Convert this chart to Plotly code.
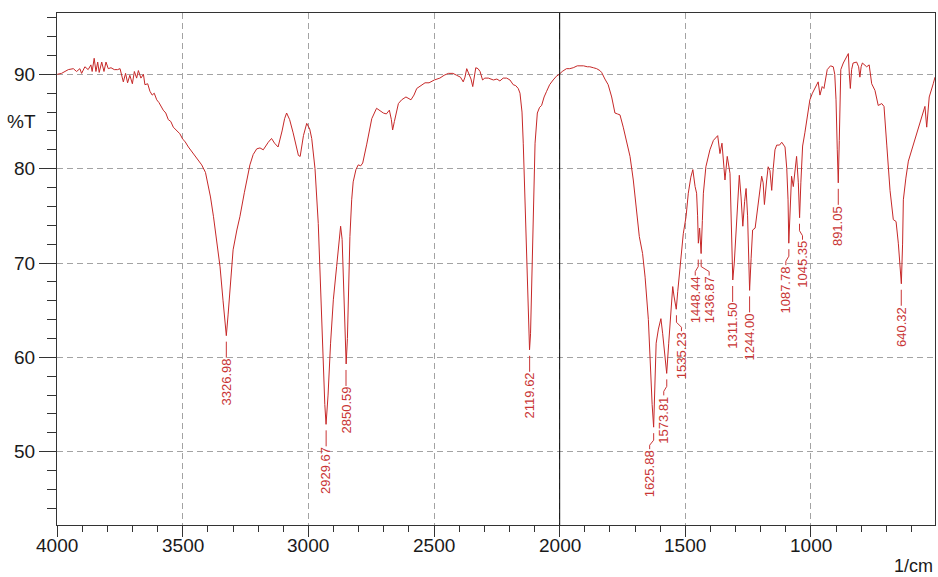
import plotly.graph_objects as go

# ---------------- data ----------------
wavenumber = [
    4000, 3983, 3956, 3936, 3923, 3910, 3903, 3890, 3877, 3866, 3861, 3853, 3846, 3839, 3833,
    3823, 3814, 3806, 3797, 3786, 3773, 3760, 3750, 3744, 3737, 3728, 3720, 3711, 3701, 3693,
    3684, 3677, 3667, 3657, 3651, 3640, 3631, 3622, 3614, 3604, 3595, 3578, 3568, 3558, 3548,
    3538, 3525, 3512, 3500, 3492, 3478, 3465, 3452, 3439, 3425, 3410, 3399, 3390, 3378, 3365,
    3352, 3340, 3332, 3327, 3320, 3310, 3300, 3285, 3273, 3255, 3240, 3233, 3220, 3206, 3193,
    3180, 3160, 3147, 3135, 3121, 3105, 3095, 3087, 3075, 3061, 3050, 3040, 3033, 3020, 3007,
    2995, 2987, 2974, 2961, 2954, 2945, 2935, 2930, 2922, 2912, 2901, 2888, 2878, 2872, 2866,
    2858, 2854, 2850, 2845, 2840, 2835, 2828, 2822, 2811, 2802, 2792, 2784, 2768, 2748, 2729,
    2715, 2702, 2690, 2678, 2670, 2665, 2658, 2642, 2629, 2612, 2592, 2580, 2569, 2550, 2536,
    2520, 2499, 2477, 2460, 2443, 2425, 2410, 2395, 2384, 2377, 2370, 2365, 2360, 2353, 2346,
    2340, 2334, 2325, 2317, 2307, 2298, 2284, 2264, 2250, 2238, 2225, 2211, 2198, 2185, 2175,
    2165, 2158, 2150, 2145, 2135, 2127, 2123, 2120, 2116, 2112, 2105, 2098, 2089, 2080, 2072,
    2062, 2052, 2040, 2026, 2013, 2002, 1990, 1973, 1960, 1946, 1930, 1919, 1905, 1890, 1880,
    1866, 1853, 1840, 1833, 1820, 1807, 1793, 1780, 1770, 1760, 1747, 1733, 1720, 1707, 1693,
    1683, 1670, 1660, 1647, 1640, 1632, 1626, 1622, 1616, 1607, 1597, 1590, 1582, 1574, 1566,
    1558, 1550, 1545, 1536, 1530, 1525, 1518, 1508, 1497, 1488, 1478, 1470, 1461, 1455, 1451,
    1448, 1443, 1437, 1432, 1428, 1418, 1402, 1388, 1371, 1362, 1354, 1342, 1333, 1322, 1316,
    1311, 1305, 1295, 1285, 1278, 1271, 1264, 1258, 1252, 1247, 1244, 1238, 1232, 1222, 1210,
    1196, 1190, 1185, 1176, 1170, 1163, 1156, 1150, 1143, 1136, 1125, 1116, 1103, 1096, 1091,
    1088, 1082, 1077, 1070, 1060, 1057, 1050, 1045, 1040, 1033, 1024, 1014, 1004, 994, 984,
    971, 964, 955, 948, 935, 922, 911, 905, 900, 895, 891, 887, 881, 871, 860,
    851, 847, 843, 838, 832, 818, 810, 805, 800, 795, 778, 768, 758, 745, 732,
    718, 709, 698, 685, 672, 661, 652, 645, 640, 635, 632, 622, 612, 595, 579,
    560, 546, 539, 529, 513, 506,
]
transmittance = [
    90.0, 90.1, 90.5, 90.6, 90.3, 90.6, 90.1, 90.8, 90.5, 91.0, 90.3, 91.7, 90.3, 91.3, 90.2,
    91.3, 90.3, 91.3, 90.6, 90.7, 90.5, 90.5, 90.6, 89.9, 89.2, 90.1, 89.1, 89.9, 89.0, 90.3,
    89.6, 90.4, 89.6, 90.0, 88.9, 89.0, 88.2, 87.8, 88.0, 87.3, 87.0, 86.2, 85.9, 85.2, 85.0,
    84.4, 84.1, 83.7, 83.1, 82.9, 82.3, 81.8, 81.3, 80.9, 80.4, 79.6, 78.3, 77.0, 74.9, 72.3,
    69.6, 66.0, 63.5, 62.3, 64.5, 68.5, 71.4, 73.5, 74.9, 77.5, 79.5, 80.4, 81.5, 82.1, 82.2,
    82.0, 82.8, 83.2, 82.7, 82.3, 84.0, 85.3, 85.9, 85.2, 83.8, 82.5, 81.4, 81.3, 83.5, 84.8,
    84.2, 83.2, 80.0, 74.2, 68.5, 61.0, 55.0, 52.9, 56.0, 61.5, 66.1, 69.6, 72.8, 73.9, 72.5,
    66.0, 61.5, 59.3, 62.0, 67.0, 72.8, 76.7, 78.6, 79.9, 80.4, 80.3, 80.6, 82.6, 85.3, 86.4,
    86.1, 85.9, 85.8, 86.2, 85.2, 84.1, 85.0, 86.9, 87.3, 87.6, 87.3, 87.8, 88.5, 88.9, 89.1,
    89.1, 89.4, 89.6, 89.9, 90.1, 90.1, 89.9, 89.7, 89.2, 89.7, 90.6, 90.3, 89.9, 89.5, 88.7,
    89.8, 90.7, 90.6, 90.3, 89.4, 89.6, 89.6, 89.4, 89.5, 89.3, 89.6, 89.6, 89.4, 88.9, 88.8,
    88.5, 88.0, 86.0, 82.7, 73.8, 66.8, 62.5, 60.8, 62.5, 66.8, 75.6, 82.7, 85.9, 86.5, 86.7,
    87.6, 88.2, 88.9, 89.4, 89.8, 90.0, 90.3, 90.6, 90.6, 90.7, 90.9, 90.9, 90.9, 90.8, 90.8,
    90.7, 90.6, 90.4, 90.2, 89.5, 88.9, 87.6, 85.9, 85.8, 85.7, 84.4, 82.7, 81.3, 78.8, 75.6,
    72.8, 71.0, 68.5, 64.0, 59.5, 55.0, 52.6, 56.5, 61.5, 63.0, 64.1, 62.5, 60.0, 58.3, 61.5,
    65.0, 67.5, 66.5, 65.1, 67.0, 68.5, 70.3, 73.1, 74.9, 77.4, 79.1, 79.9, 78.1, 77.4, 75.0,
    72.1, 73.7, 71.0, 74.5, 77.4, 80.2, 82.0, 83.0, 83.5, 81.6, 82.7, 78.8, 81.3, 79.5, 74.0,
    68.2, 70.0, 74.9, 79.3, 77.0, 73.9, 76.5, 77.9, 75.0, 70.0, 67.1, 70.5, 73.5, 73.7, 76.5,
    79.2, 78.5, 76.2, 78.8, 80.2, 79.8, 77.7, 80.0, 82.0, 82.5, 82.5, 82.8, 82.3, 80.0, 76.7,
    72.1, 75.5, 79.2, 78.1, 80.2, 81.3, 78.5, 74.8, 78.5, 82.4, 83.8, 85.8, 87.3, 88.0, 88.5,
    89.2, 87.8, 88.7, 88.5, 90.5, 90.9, 90.8, 90.0, 87.3, 82.0, 78.5, 83.0, 90.5, 91.2, 91.7,
    92.2, 90.0, 88.5, 90.5, 91.2, 91.3, 90.8, 89.7, 90.8, 91.2, 90.8, 91.0, 89.0, 88.3, 86.7,
    86.9, 86.6, 82.5, 77.7, 74.6, 74.4, 72.1, 70.0, 67.8, 72.0, 76.7, 79.0, 80.8, 82.3, 83.7,
    85.3, 86.6, 84.4, 87.6, 89.0, 89.7,
]

peak_positions = [3326.98, 2929.67, 2850.59, 2119.62, 1625.88, 1573.81, 1535.23, 1448.44,
                  1436.87, 1311.50, 1244.00, 1087.78, 1045.35, 891.05, 640.32]
peak_labels = ["3326.98", "2929.67", "2850.59", "2119.62", "1625.88", "1573.81", "1535.23",
               "1448.44", "1436.87", "1311.50", "1244.00", "1087.78", "1045.35", "891.05",
               "640.32"]

x_tick_values = [4000, 3500, 3000, 2500, 2000, 1500, 1000]
x_tick_labels = ["4000", "3500", "3000", "2500", "2000", "1500", "1000"]
y_tick_values = [50, 60, 70, 80, 90]

# ---------------- style ----------------
LINE_RED = "#c62828"
LABEL_RED = "#c93535"
GRID = "#a3a3a3"
TEXT = "#1a1a1a"
FONT = "Liberation Sans, Arial, sans-serif"
label_dx = [0, 0, 0, 0, -4, -3, 5, -3, 8, 0, 0, -3, 3, 0, 0]   # pixel hook of leaders

fig = go.Figure()
fig.add_trace(go.Scatter(x=wavenumber, y=transmittance, mode="lines",
                         line=dict(color=LINE_RED, width=1), hoverinfo="skip"))


def trough_value(pos):
    i = min(range(len(wavenumber)), key=lambda k: abs(wavenumber[k] - pos))
    lo, hi = max(0, i - 2), min(len(wavenumber), i + 3)
    return min(transmittance[lo:hi])


shapes = []
annotations = []
for pos, txt, dx in zip(peak_positions, peak_labels, label_dx):
    ty = trough_value(pos)
    if dx == 0:
        path = "M0,-6 L0,-22"
    else:
        path = f"M0,-6 L0,-13 L{dx},-18 L{dx},-22"
    shapes.append(dict(type="path", xref="x", yref="y", xsizemode="pixel", ysizemode="pixel",
                       xanchor=pos, yanchor=ty, path=path,
                       line=dict(color=LABEL_RED, width=1)))
    annotations.append(dict(x=pos, y=ty, xref="x", yref="y", text=txt, showarrow=False,
                            textangle=-90, xanchor="center", yanchor="top",
                            xshift=dx, yshift=-22, borderpad=0,
                            font=dict(family=FONT, size=13, color=LABEL_RED)))

# x tick labels placed as text under the axis
for v, t in zip(x_tick_values, x_tick_labels):
    annotations.append(dict(x=v, xref="x", yref="paper", y=-0.041, text=t, showarrow=False,
                            xanchor="center", yanchor="middle",
                            font=dict(family=FONT, size=19, color=TEXT)))

# solid divider at 2000
shapes.append(dict(type="line", xref="x", yref="paper", x0=2000, x1=2000, y0=0, y1=1,
                   line=dict(color="#000000", width=1), layer="above"))

annotations.append(dict(xref="paper", yref="y", x=-0.0405, y=85, text="%T", showarrow=False,
                        xanchor="center", yanchor="middle",
                        font=dict(family=FONT, size=19, color=TEXT)))
annotations.append(dict(xref="paper", yref="paper", x=1.0, y=-0.080, text="1/cm",
                        showarrow=False, xanchor="right", yanchor="middle",
                        font=dict(family=FONT, size=18, color=TEXT)))

fig.update_layout(
    width=938, height=577,
    margin=dict(l=57, r=3, t=13, b=52),
    paper_bgcolor="white", plot_bgcolor="white",
    showlegend=False,
    shapes=shapes, annotations=annotations,
    font=dict(family=FONT, size=19, color=TEXT),
)
fig.update_xaxes(
    range=[4001, 506], tickmode="array", tickvals=x_tick_values, showticklabels=False,
    ticks="outside", ticklen=11, tickcolor="#333", tickwidth=1,
    minor=dict(dtick=100, ticks="outside", ticklen=6, tickcolor="#333", showgrid=False),
    showgrid=True, gridcolor=GRID, griddash="6px,4px", gridwidth=1,
    showline=True, linecolor="#333", linewidth=1, mirror=True,
    zeroline=False,
)
fig.update_yaxes(
    range=[42.23, 96.5], tickmode="array", tickvals=y_tick_values,
    ticks="outside", ticklen=17, tickcolor="#333", tickwidth=1,
    minor=dict(dtick=2, tick0=0, ticks="outside", ticklen=9, tickcolor="#333", showgrid=False),
    showgrid=True, gridcolor=GRID, griddash="6px,4px", gridwidth=1,
    showline=True, linecolor="#333", linewidth=1, mirror=True,
    zeroline=False, tickfont=dict(family=FONT, size=19, color=TEXT),
)

fig.write_html("out.html", config={"displayModeBar": False})
